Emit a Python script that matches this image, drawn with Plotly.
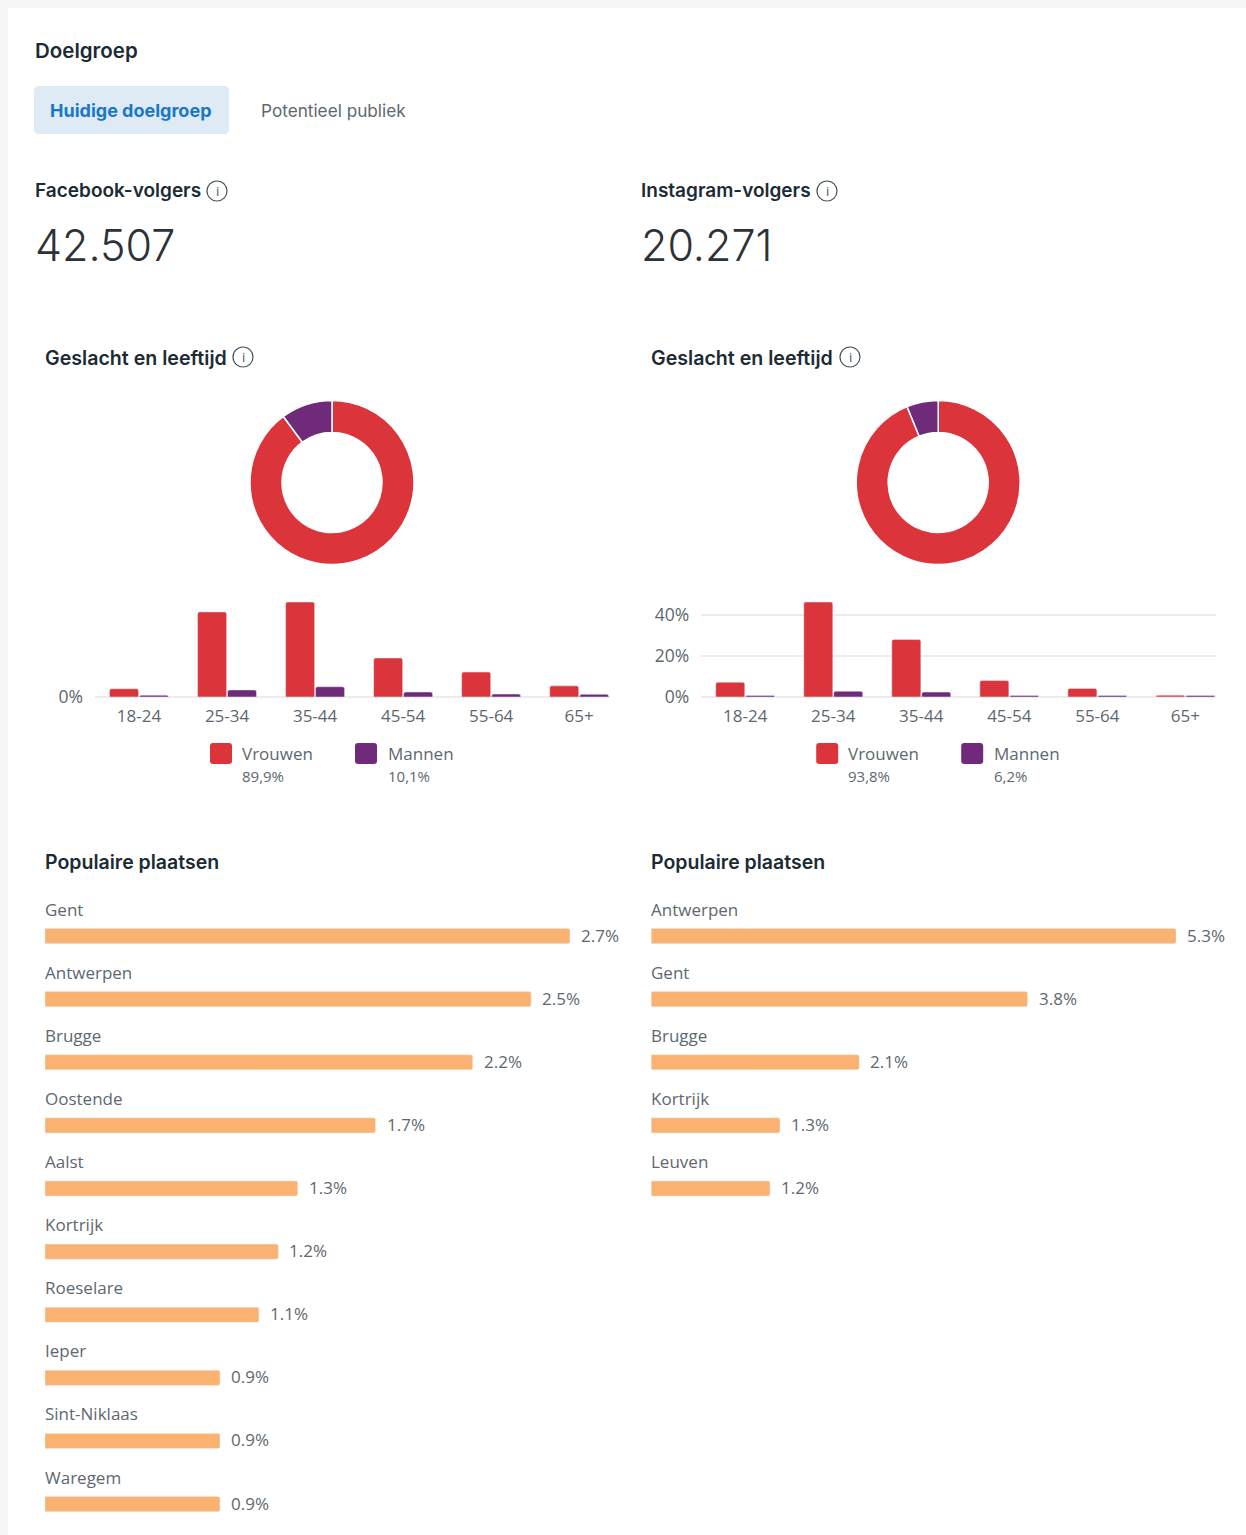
import plotly.graph_objects as go

W, H = 1246, 1535
FONT = "Inter"
BODY = "Open Sans"
DARK = "#1c2b33"
GREY = "#5d6870"
RED = "#dc343b"
PURPLE = "#6f2b79"
PEACH = "#fbb270"

age_groups = ["18-24", "25-34", "35-44", "45-54", "55-64", "65+"]
fb_women = [2.8, 29.0, 32.4, 13.3, 8.5, 3.8]
fb_men = [0.6, 2.4, 3.5, 1.7, 1.0, 0.9]
ig_women = [7.2, 46.3, 28.0, 8.0, 4.2, 0.9]
ig_men = [0.7, 2.8, 2.4, 0.7, 0.7, 0.7]
gender_labels = ["Vrouwen", "Mannen"]
fb_gender = [89.9, 10.1]
ig_gender = [93.8, 6.2]
fb_gender_text = ["89,9%", "10,1%"]
ig_gender_text = ["93,8%", "6,2%"]
fb_places = ["Gent", "Antwerpen", "Brugge", "Oostende", "Aalst", "Kortrijk",
             "Roeselare", "Ieper", "Sint-Niklaas", "Waregem"]
fb_place_values = [2.7, 2.5, 2.2, 1.7, 1.3, 1.2, 1.1, 0.9, 0.9, 0.9]
ig_places = ["Antwerpen", "Gent", "Brugge", "Kortrijk", "Leuven"]
ig_place_values = [5.3, 3.8, 2.1, 1.3, 1.2]
fb_followers = "42.507"
ig_followers = "20.271"


def px(x):
    return x / W


def py(y):
    return 1 - y / H


annotations, shapes = [], []


def text(x, y, s, size=16, color=GREY, weight=400, family=BODY, anchor="left"):
    annotations.append(dict(
        xref="paper", yref="paper", x=px(x - 1 if anchor == "left" else x), y=py(y), text=s,
        showarrow=False, xanchor=anchor, yanchor="middle", borderpad=0,
        font=dict(family=family, size=size, color=color, weight=weight)))


def rrect(x0, y0, x1, y1, color, r=3, layer="above"):
    X0, X1, Xa, Xb = px(x0), px(x1), px(x0 + r), px(x1 - r)
    Y0, Y1, Ya, Yb = py(y0), py(y1), py(y0 + r), py(y1 - r)
    path = (f"M {Xa} {Y0} L {Xb} {Y0} Q {X1} {Y0} {X1} {Ya} L {X1} {Yb} Q {X1} {Y1} {Xb} {Y1} "
            f"L {Xa} {Y1} Q {X0} {Y1} {X0} {Yb} L {X0} {Ya} Q {X0} {Y0} {Xa} {Y0} Z")
    shapes.append(dict(type="path", xref="paper", yref="paper", path=path,
                       fillcolor=color, line_width=0, layer=layer))


def info(cx, cy):
    shapes.append(dict(type="circle", xref="paper", yref="paper",
                       x0=px(cx - 10), x1=px(cx + 10), y0=py(cy - 10), y1=py(cy + 10),
                       line=dict(color="#47535b", width=1.2), fillcolor="rgba(0,0,0,0)"))
    text(cx, cy, "i", size=13, color="#47535b", anchor="center")


shapes.append(dict(type="rect", xref="paper", yref="paper", x0=px(8), x1=1, y0=0, y1=py(8),
                   fillcolor="white", line_width=0, layer="below"))
rrect(34, 86, 229, 134, "#deeaf4", r=5, layer="below")

text(35, 51, "Doelgroep", size=20.5, color=DARK, weight=600, family=FONT)
text(50, 111, "Huidige doelgroep", size=18, color="#1877c9", weight=700, family=FONT)
text(261, 111, "Potentieel publiek", size=17.2, color=GREY, family=FONT)

fig = go.Figure()

COLS = [
    dict(off=0, title="Facebook-volgers", num=fb_followers, title_info=217, age_info=243,
         women=fb_women, men=fb_men, gender=fb_gender, gtext=fb_gender_text,
         places=fb_places, vals=fb_place_values, ymax=32.4,
         yticks=[0], ylabels=["0%"]),
    dict(off=606.2, title="Instagram-volgers", num=ig_followers, title_info=827 - 606.2, age_info=243.8,
         women=ig_women, men=ig_men, gender=ig_gender, gtext=ig_gender_text,
         places=ig_places, vals=ig_place_values, ymax=46.3,
         yticks=[0, 20, 40], ylabels=["0%", "20%", "40%"]),
]

layout_axes = {}
for i, c in enumerate(COLS):
    o = c["off"]
    text(35 + o, 191, c["title"], size=19, color=DARK, weight=600, family=FONT)
    info(o + c["title_info"], 191)
    text(34.5 + o, 245, c["num"], size=43, color="#2b3338", weight=300, family=FONT)
    text(45 + o, 358, "Geslacht en leeftijd", size=19.6, color=DARK, weight=600, family=FONT)
    info(o + c["age_info"], 357)
    text(45 + o, 862, "Populaire plaatsen", size=19.5, color=DARK, weight=600, family=FONT)

    # donut
    fig.add_trace(go.Pie(
        labels=gender_labels, values=c["gender"], hole=0.61, sort=False,
        direction="clockwise", rotation=0, textinfo="none", showlegend=False,
        marker=dict(colors=[RED, PURPLE], line=dict(color="white", width=1.5)),
        domain=dict(x=[px(250 + o), px(414 + o)], y=[py(564.5), py(400.5)])))

    # age bars
    n = 2 * i + 1
    suffix = "" if n == 1 else str(n)
    xa, ya = f"x{suffix}", f"y{suffix}"
    for name, vals, col in [("Vrouwen", c["women"], RED), ("Mannen", c["men"], PURPLE)]:
        fig.add_trace(go.Bar(x=age_groups, y=vals, name=name, marker_color=col,
                             xaxis=xa, yaxis=ya, showlegend=False))
    layout_axes[f"xaxis{suffix}"] = dict(
        domain=[px(95 + o), px(610 + o)], anchor=ya, type="category",
        categoryorder="array", categoryarray=age_groups, range=[-0.5, 5.35],
        showgrid=False, zeroline=False, showline=False, ticks="",
        tickfont=dict(family=BODY, size=17, color=GREY), ticklabelstandoff=7)
    layout_axes[f"yaxis{suffix}"] = dict(
        domain=[py(697), py(602)], anchor=xa, range=[0, c["ymax"]],
        tickvals=c["yticks"], ticktext=c["ylabels"], showline=False,
        gridcolor="#ececec", gridwidth=1.5, zeroline=True, zerolinecolor="#ececec", zerolinewidth=2,
        ticks="", tickfont=dict(family=BODY, size=17.5, color=GREY), ticklabelstandoff=11)

    # legend
    for j, (sx, tx) in enumerate([(210, 242), (355, 388)]):
        rrect(sx + o, 743, sx + 22 + o, 764, [RED, PURPLE][j], r=3)
        text(tx + o, 754, gender_labels[j], size=17, color=GREY)
        text(tx + o, 776.5, c["gtext"][j], size=15, color=GREY)

    # places
    m = 2 * i + 2
    xb, yb = f"x{m}", f"y{m}"
    fig.add_trace(go.Bar(x=c["vals"], y=c["places"], orientation="h", width=0.24,
                         marker_color=PEACH, xaxis=xb, yaxis=yb, showlegend=False))
    layout_axes[f"xaxis{m}"] = dict(
        domain=[px(45 + o), px(570 + o)], anchor=yb, range=[0, c["vals"][0]], visible=False)
    layout_axes[f"yaxis{m}"] = dict(
        domain=[py(1535), py(904.5)], anchor=xb, type="category",
        categoryorder="array", categoryarray=c["places"], range=[9.49, -0.5], visible=False)
    for name, v in zip(c["places"], c["vals"]):
        annotations.append(dict(xref=xb, yref=yb, x=0, y=name, text=name, showarrow=False,
                                xanchor="left", yanchor="middle", xshift=-1, yshift=27, borderpad=0,
                                font=dict(family=BODY, size=17, color=GREY)))
        annotations.append(dict(xref=xb, yref=yb, x=v, y=name, text=f"{v}%", showarrow=False,
                                xanchor="left", yanchor="middle", xshift=10, yshift=1, borderpad=0,
                                font=dict(family=BODY, size=17, color=GREY)))

fig.update_layout(
    width=W, height=H, margin=dict(l=0, r=0, t=0, b=0, autoexpand=False),
    paper_bgcolor="#f6f6f6", plot_bgcolor="rgba(0,0,0,0)",
    barmode="group", bargap=0.32, bargroupgap=0.03, barcornerradius=2,
    annotations=annotations, shapes=shapes, **layout_axes)

fig.write_html("out.html", config=dict(displayModeBar=False),
               post_script="document.body.style.margin='0';document.body.style.overflow='hidden';")
